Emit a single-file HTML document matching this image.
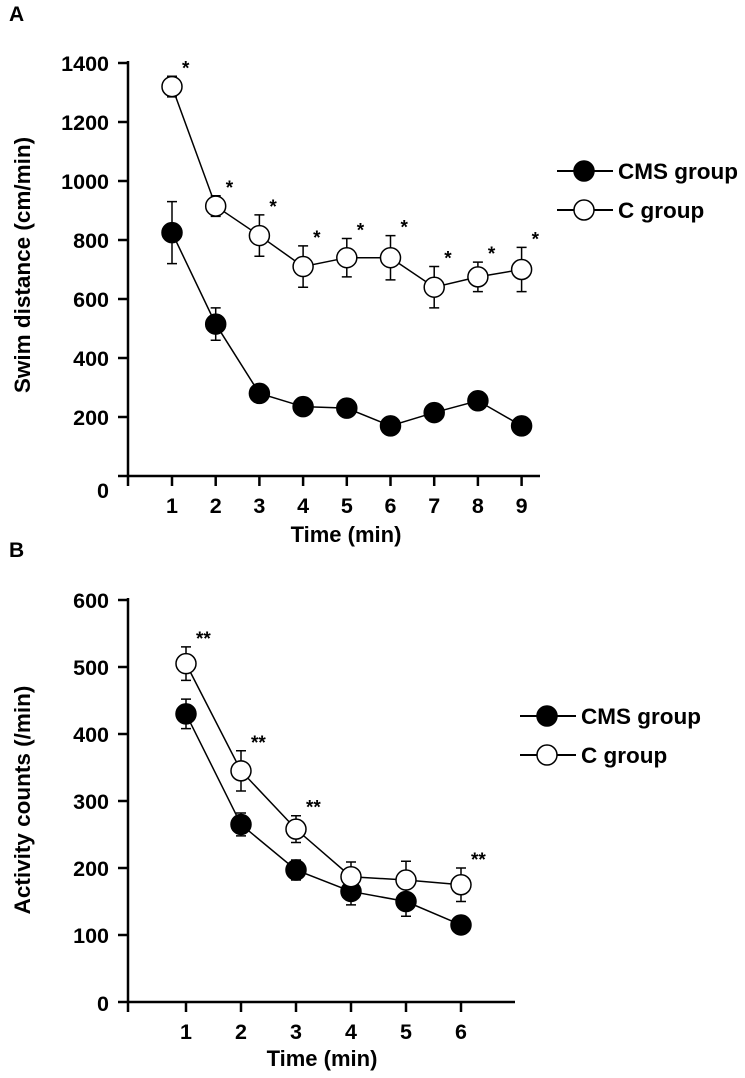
<!DOCTYPE html>
<html><head><meta charset="utf-8"><style>
body{margin:0;background:#fff;}
svg text{font-family:"Liberation Sans",Arial,sans-serif;font-weight:bold;fill:#000;}
</style></head><body>
<svg id="s" width="745" height="1073" xmlns="http://www.w3.org/2000/svg"></svg>
<script>
const xA=[1,2,3,4,5,6,7,8,9];
const cmsA=[825,515,280,235,230,170,215,255,170];
const cmsAErr=[105,55,30,20,20,15,20,30,15];
const cA=[1320,915,815,710,740,740,640,675,700];
const cAErr=[35,35,70,70,65,75,70,50,75];
const sigA=["*","*","*","*","*","*","*","*","*"];
const yTicksA=[0,200,400,600,800,1000,1200,1400];
const xB=[1,2,3,4,5,6];
const cmsB=[430,265,197,165,150,115];
const cmsBErr=[22,17,15,20,22,10];
const cB=[505,345,258,187,182,175];
const cBErr=[25,30,20,22,28,25];
const sigB=["**","**","**","","","**"];
const yTicksB=[0,100,200,300,400,500,600];

const svg=document.getElementById('s');
const NS="http://www.w3.org/2000/svg";
function mk(tag,attrs,parent){const e=document.createElementNS(NS,tag);for(const k in attrs)e.setAttribute(k,attrs[k]);(parent||svg).appendChild(e);return e;}

function panel(p){
  const g=mk('g',{});
  
  
  const X=v=>p.x0+(v-1)*p.dx, Y=v=>p.y0-v*p.sy;
  const ax=mk('path',{d:`M${p.ax} ${Y(p.ymax)-2} V${p.y0} M${p.ax} ${p.y0} H${p.xend}`,stroke:'#000','stroke-width':2.5,fill:'none'},g);
  
  
  p.yt.forEach(v=>{
    mk('line',{x1:p.ax-10,x2:p.ax,y1:Y(v),y2:Y(v),stroke:'#000','stroke-width':2.5},g);
    const t=mk('text',{x:p.ax-19,y:(v===0?Y(v)+p.zeroOff:Y(v)+8),'text-anchor':'end','font-size':21.5},g);
    t.textContent=v;
    
    
  });
  mk('line',{x1:p.ax,x2:p.ax,y1:p.y0,y2:p.y0+10,stroke:'#000','stroke-width':2.5},g);
  p.xs.forEach(v=>{
    mk('line',{x1:X(v),x2:X(v),y1:p.y0,y2:p.y0+10,stroke:'#000','stroke-width':2.5},g);
    const t=mk('text',{x:X(v),y:p.y0+37,'text-anchor':'middle','font-size':21.5},g);
    t.textContent=v;
    
    
  });
  const xt=mk('text',{x:p.xtx,y:p.y0+p.xtOff,'text-anchor':'middle','font-size':22},g);
  xt.textContent='Time (min)';
  
  
  const yt=mk('text',{x:0,y:0,transform:`translate(30,${p.ytY}) rotate(-90)`,'text-anchor':'middle','font-size':22.5},g);
  yt.textContent=p.ylabel;
  
  
  const lt=mk('text',{x:9,y:p.labY,'font-size':21},g);
  lt.textContent=p.letter;
  
  
  [[p.cms,p.cmsE,'#000','cms-series'],[p.c,p.cE,'#fff','c-series']].forEach(([vals,errs,fill,nm])=>{
    const sg=mk('g',{},g);
    
    
    mk('polyline',{points:vals.map((v,i)=>X(p.xs[i])+','+Y(v)).join(' '),fill:'none',stroke:'#000','stroke-width':1.5},sg);
    vals.forEach((v,i)=>{
      const x=X(p.xs[i]);
      mk('path',{d:`M${x} ${Y(v+errs[i])} V${Y(v-errs[i])} M${x-5} ${Y(v+errs[i])} H${x+5} M${x-5} ${Y(v-errs[i])} H${x+5}`,stroke:'#000','stroke-width':1.5},sg);
      const c=mk('circle',{cx:x,cy:Y(v),r:10,fill:fill,stroke:'#000','stroke-width':1.5},sg);
      
      
    });
  });
  p.c.forEach((v,i)=>{
    if(!p.sig[i])return;
    const t=mk('text',{x:X(p.xs[i])+10,y:Y(v+p.cE[i])-2,'font-size':19},g);
    t.textContent=p.sig[i];
    
    
  });
  [['CMS group','#000',p.legY],['C group','#fff',p.legY+39]].forEach(([lab,fill,y])=>{
    const lg=mk('g',{},g);
    
    
    mk('line',{x1:p.legX,x2:p.legX+56,y1:y,y2:y,stroke:'#000','stroke-width':2},lg);
    mk('circle',{cx:p.legX+27,cy:y,r:10,fill:fill,stroke:'#000','stroke-width':1.5},lg);
    const t=mk('text',{x:p.legX+61,y:y+8,'font-size':22.5},lg);
    t.textContent=lab;
  });
}
panel({name:'panel-a',letter:'A',labY:21,ax:128,y0:476,x0:172,dx:43.7,sy:59/200,ymax:1400,xend:540,zeroOff:22,xtOff:66,
  xs:xA,cms:cmsA,cmsE:cmsAErr,c:cA,cE:cAErr,sig:sigA,yt:yTicksA,ylabel:'Swim distance (cm/min)',ytY:265,xtx:346,legX:557,legY:171});
panel({name:'panel-b',letter:'B',labY:557,ax:128,y0:1002,x0:186,dx:55,sy:67/100,ymax:600,xend:515,zeroOff:9,xtOff:64,
  xs:xB,cms:cmsB,cmsE:cmsBErr,c:cB,cE:cBErr,sig:sigB,yt:yTicksB,ylabel:'Activity counts (/min)',ytY:800,xtx:322,legX:520,legY:716});
</script>
</body></html>
